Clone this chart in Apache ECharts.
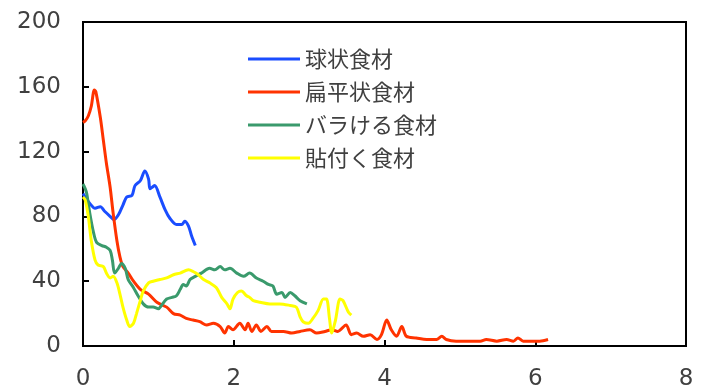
<!DOCTYPE html>
<html>
<head>
<meta charset="utf-8">
<script src="https://cdn.jsdelivr.net/npm/echarts@6/dist/echarts.min.js"></script>
<style>
  html, body { margin: 0; padding: 0; background: #fff; }
  #chart { width: 706px; height: 392px; }
</style>
</head>
<body>
<div id="chart"></div>
<script>
// 系列名
const seriesNames = ["球状食材", "扁平状食材", "バラける食材", "貼付く食材"];
const seriesColors = ["#1a4dff", "#ff3300", "#3a9a6c", "#ffff00"];

// 軸目盛
const xTicks = [0, 2, 4, 6, 8];
const yTicks = [0, 40, 80, 120, 160, 200];

// 球状食材 [x, y]
const roundData = [
  [0.00, 94], [0.03, 92], [0.09, 88], [0.16, 85], [0.23, 86], [0.29, 83],
  [0.36, 80], [0.41, 78], [0.47, 81], [0.53, 87], [0.58, 92], [0.65, 93],
  [0.69, 99], [0.76, 102], [0.82, 108], [0.87, 103], [0.89, 97], [0.95, 99],
  [1.02, 92], [1.09, 84], [1.15, 79], [1.24, 75], [1.31, 75], [1.35, 77],
  [1.40, 74], [1.44, 68], [1.49, 62]
];

// 扁平状食材
const flatData = [
  [0.00, 138], [0.03, 139], [0.07, 142], [0.11, 148], [0.15, 158], [0.17, 157],
  [0.23, 141], [0.27, 127], [0.31, 113], [0.36, 98], [0.40, 82], [0.45, 65],
  [0.49, 55], [0.53, 49], [0.60, 45], [0.67, 40], [0.76, 35], [0.87, 32],
  [0.98, 27], [1.11, 24], [1.20, 20], [1.29, 19], [1.37, 17], [1.46, 16],
  [1.55, 15], [1.64, 13], [1.73, 14], [1.82, 12], [1.88, 8], [1.93, 12],
  [1.99, 10], [2.08, 14], [2.15, 10], [2.19, 14], [2.24, 9], [2.30, 13],
  [2.36, 9], [2.44, 12], [2.50, 9], [2.57, 9], [2.66, 9], [2.77, 8],
  [2.88, 9], [3.01, 10], [3.10, 8], [3.21, 9], [3.30, 10], [3.38, 9],
  [3.49, 13], [3.56, 7], [3.63, 8], [3.72, 6], [3.81, 7], [3.90, 4],
  [3.96, 7], [4.03, 16], [4.09, 10], [4.16, 6], [4.23, 12], [4.29, 6],
  [4.42, 5], [4.56, 4], [4.69, 4], [4.76, 6], [4.82, 4], [4.95, 3],
  [5.09, 3], [5.27, 3], [5.35, 4], [5.49, 3], [5.62, 4], [5.71, 3],
  [5.77, 5], [5.84, 3], [5.97, 3], [6.06, 3], [6.17, 4]
];

// バラける食材
const looseData = [
  [0.00, 100], [0.03, 97], [0.05, 94], [0.09, 82], [0.14, 70], [0.18, 64],
  [0.25, 62], [0.31, 61], [0.36, 59], [0.39, 53], [0.42, 45], [0.47, 48],
  [0.51, 51], [0.56, 48], [0.60, 41], [0.67, 36], [0.73, 31], [0.80, 26],
  [0.87, 24], [0.93, 24], [1.00, 23], [1.04, 25], [1.11, 29], [1.18, 30],
  [1.24, 31], [1.29, 35], [1.33, 38], [1.37, 37], [1.42, 41], [1.49, 43],
  [1.57, 45], [1.68, 48], [1.75, 47], [1.82, 49], [1.88, 47], [1.95, 48],
  [2.04, 45], [2.13, 43], [2.21, 45], [2.30, 42], [2.39, 40], [2.46, 38],
  [2.52, 37], [2.57, 32], [2.64, 33], [2.68, 30], [2.75, 33], [2.81, 31],
  [2.88, 28], [2.97, 26]
];

// 貼付く食材
const stickyData = [
  [0.00, 92], [0.03, 90], [0.07, 80], [0.11, 65], [0.16, 53], [0.20, 50],
  [0.27, 49], [0.31, 45], [0.36, 42], [0.40, 43], [0.45, 39], [0.49, 32],
  [0.53, 24], [0.58, 16], [0.62, 12], [0.67, 14], [0.71, 20], [0.76, 28],
  [0.80, 34], [0.87, 39], [0.93, 40], [1.02, 41], [1.11, 42], [1.20, 44],
  [1.29, 45], [1.40, 47], [1.46, 46], [1.53, 44], [1.60, 41], [1.68, 39],
  [1.77, 36], [1.84, 30], [1.91, 26], [1.95, 23], [1.99, 29], [2.05, 33],
  [2.10, 34], [2.17, 31], [2.21, 30], [2.26, 28], [2.35, 27], [2.48, 26],
  [2.61, 26], [2.75, 25], [2.83, 24], [2.88, 18], [2.92, 15], [2.99, 14],
  [3.05, 17], [3.12, 22], [3.19, 29], [3.23, 29], [3.27, 17], [3.30, 8],
  [3.35, 16], [3.41, 29], [3.45, 28], [3.52, 21], [3.56, 19]
];

const allData = [roundData, flatData, looseData, stickyData];

const chart = echarts.init(document.getElementById("chart"));

const labelFont = {
  color: "#404040",
  fontFamily: "DejaVu Sans",
  fontSize: 23,
};

const option = {
  animation: false,
  backgroundColor: "#fff",
  grid: {
    left: 83,
    right: 20,
    top: 22,
    bottom: 46,
    show: true,
    borderColor: "#000",
    borderWidth: 2,
  },
  legend: {
    data: seriesNames,
    orient: "vertical",
    left: 248,
    top: 48,
    padding: 0,
    icon: "rect",
    itemWidth: 52,
    itemHeight: 3,
    itemGap: 11,
    textStyle: {
      color: "#404040",
      fontFamily: "Noto Sans CJK JP",
      fontSize: 22,
    },
  },
  xAxis: {
    type: "value",
    min: xTicks[0],
    max: xTicks[xTicks.length - 1],
    interval: 2,
    splitLine: { show: false },
    axisLine: { lineStyle: { color: "#000", width: 2 } },
    axisTick: { inside: true, length: 6, lineStyle: { color: "#000", width: 2 } },
    axisLabel: Object.assign({ margin: 22 }, labelFont),
  },
  yAxis: {
    type: "value",
    min: yTicks[0],
    max: yTicks[yTicks.length - 1],
    interval: 40,
    splitLine: { show: false },
    axisLine: { show: true, lineStyle: { color: "#000", width: 2 } },
    axisTick: { show: true, inside: true, length: 6, lineStyle: { color: "#000", width: 2 } },
    axisLabel: Object.assign({ margin: 22 }, labelFont),
  },
  series: seriesNames.map((name, i) => ({
    name: name,
    type: "line",
    data: allData[i],
    smooth: 0.3,
    symbol: "none",
    color: seriesColors[i],
    lineStyle: { width: 3, color: seriesColors[i] },
  })),
};

chart.setOption(option);
</script>
</body>
</html>
